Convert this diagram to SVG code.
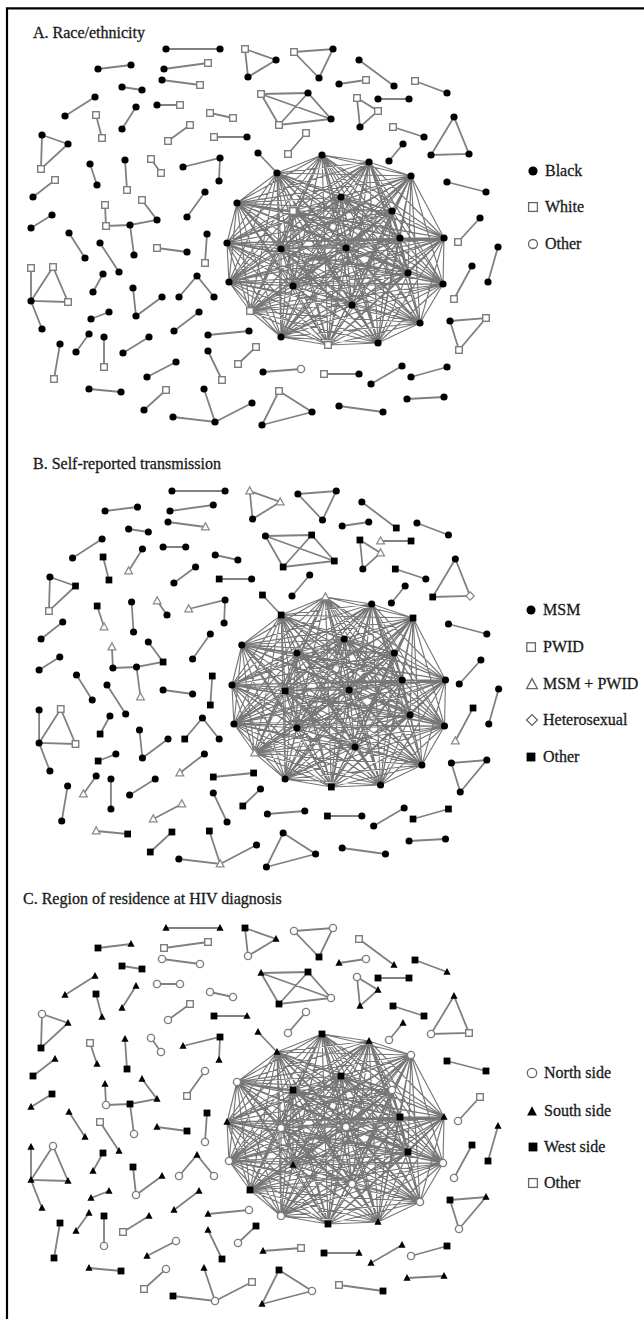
<svg xmlns="http://www.w3.org/2000/svg" width="644" height="1319" viewBox="0 0 644 1319">
<style>
.lbl{font-family:"Liberation Serif","Times New Roman",serif;font-size:16px;fill:#1a1a1a;stroke:#1a1a1a;stroke-width:0.3}
.e{fill:none;stroke:#808080;stroke-width:1.8}
.ce{fill:none;stroke:#777;stroke-width:1.15}
.lo{fill:#fff;stroke:#666;stroke-width:1.3}
</style>
<defs>
<circle id="k" r="3.6" fill="#000"/>
<rect id="w" x="-3.3" y="-3.3" width="6.6" height="6.6" fill="#fff" stroke="#7d7d7d" stroke-width="1.4"/>
<circle id="o" r="3.6" fill="#fff" stroke="#7d7d7d" stroke-width="1.4"/>
<path id="t" d="M0-4.1L3.9 2.8H-3.9Z" fill="#fff" stroke="#8a8a8a" stroke-width="1.3"/>
<path id="d" d="M0-4.2L4.2 0L0 4.2L-4.2 0Z" fill="#fff" stroke="#8a8a8a" stroke-width="1.3"/>
<rect id="s" x="-3.4" y="-3.4" width="6.8" height="6.8" fill="#000"/>
<path id="T" d="M0-3.9L3.6 2.8H-3.6Z" fill="#000"/>
<g id="net-edges">
<path class="ce" d="M322 155L277 173L369 162M411 176L277 173L237 203M293 211L277 173L341 197M392 211L277 173L400 238M227 243L277 173L281 249M346 248L277 173L444 238M408 273L277 173L443 284M229 282L277 173L293 286M352 305L277 173L250 311M420 323L277 173L281 337M378 343L277 173L328 345
M369 162L322 155L411 176M237 203L322 155L293 211M341 197L322 155L392 211M400 238L322 155L227 243M281 249L322 155L346 248M444 238L322 155L408 273M443 284L322 155L229 282M293 286L322 155L352 305M250 311L322 155L420 323M281 337L322 155L378 343M328 345L322 155
M411 176L369 162L237 203M293 211L369 162L341 197M392 211L369 162L400 238M227 243L369 162L281 249M346 248L369 162L444 238M408 273L369 162L443 284M229 282L369 162L293 286M352 305L369 162L250 311M420 323L369 162L281 337M378 343L369 162L328 345
M237 203L411 176L293 211M341 197L411 176L392 211M400 238L411 176L227 243M281 249L411 176L346 248M444 238L411 176L408 273M443 284L411 176L229 282M293 286L411 176L352 305M250 311L411 176L420 323M281 337L411 176L378 343M328 345L411 176
M293 211L237 203L341 197M392 211L237 203L400 238M227 243L237 203L281 249M346 248L237 203L444 238M408 273L237 203L443 284M229 282L237 203L293 286M352 305L237 203L250 311M420 323L237 203L281 337M378 343L237 203L328 345
M341 197L293 211L392 211M400 238L293 211L227 243M281 249L293 211L346 248M444 238L293 211L408 273M443 284L293 211L229 282M293 286L293 211L352 305M250 311L293 211L420 323M281 337L293 211L378 343M328 345L293 211
M392 211L341 197L400 238M227 243L341 197L281 249M346 248L341 197L444 238M408 273L341 197L443 284M229 282L341 197L293 286M352 305L341 197L250 311M420 323L341 197L281 337M378 343L341 197L328 345
M400 238L392 211L227 243M281 249L392 211L346 248M444 238L392 211L408 273M443 284L392 211L229 282M293 286L392 211L352 305M250 311L392 211L420 323M281 337L392 211L378 343M328 345L392 211
M227 243L400 238L281 249M346 248L400 238L444 238M408 273L400 238L443 284M229 282L400 238L293 286M352 305L400 238L250 311M420 323L400 238L281 337M378 343L400 238L328 345
M281 249L227 243L346 248M444 238L227 243L408 273M443 284L227 243L229 282M293 286L227 243L352 305M250 311L227 243L420 323M281 337L227 243L378 343M328 345L227 243
M346 248L281 249L444 238M408 273L281 249L443 284M229 282L281 249L293 286M352 305L281 249L250 311M420 323L281 249L281 337M378 343L281 249L328 345
M444 238L346 248L408 273M443 284L346 248L229 282M293 286L346 248L352 305M250 311L346 248L420 323M281 337L346 248L378 343M328 345L346 248
M408 273L444 238L443 284M229 282L444 238L293 286M352 305L444 238L250 311M420 323L444 238L281 337M378 343L444 238L328 345
M443 284L408 273L229 282M293 286L408 273L352 305M250 311L408 273L420 323M281 337L408 273L378 343M328 345L408 273
M229 282L443 284L293 286M352 305L443 284L250 311M420 323L443 284L281 337M378 343L443 284L328 345
M293 286L229 282L352 305M250 311L229 282L420 323M281 337L229 282L378 343M328 345L229 282
M352 305L293 286L250 311M420 323L293 286L281 337M378 343L293 286L328 345
M250 311L352 305L420 323M281 337L352 305L378 343M328 345L352 305
M420 323L250 311L281 337M378 343L250 311L328 345
M281 337L420 323L378 343M328 345L420 323
M378 343L281 337L328 345M328 345L378 343"/>
<path class="e" d="M166 49H220M245 49L276 60L248 77ZM294 52L333 49L319 78ZM98 69L131 65M164 69L208 63M162 80L200 85M122 87L142 90M65 116L95 97M122 129L136 107M96 115L102 138M157 105H180M210 113L233 118M168 141L190 125M214 137H247
M261 94L308 93L331 119L279 125ZM261 94L331 119M308 93L279 125
M288 154L306 133M42 135L68 144L41 169ZM90 164L97 185M125 160L127 190M151 159L161 173M183 167L220 158L219 181M33 197L55 180M205 192L187 217
M105 205L106 226L130 225L157 220L142 200M130 225L134 255
M52 215L31 228M69 233L85 258M100 243L119 272M157 248L187 252M207 234L205 263M103 274L93 292M133 288L136 316L162 297M179 297L197 276L214 297
M31 268L31 301L42 329M53 267L31 301L68 302Z
M91 319L109 312M174 331L199 312M89 334L76 352M104 337V367M60 344L54 379M123 353L149 337M208 335L249 331M208 351L222 380M238 364L256 347M147 377L176 362M263 372L301 369M89 389L121 392M144 410L166 390
M204 389L215 422L173 417M215 422L252 403M279 391L312 412L262 425Z
M393 127L424 137M454 117L431 155L469 154ZM403 144L389 161M359 60L394 86M339 84L366 80M415 81L447 93M357 98L378 111L360 127ZM378 99H409
M447 182L486 192M480 218L458 242M472 266L454 299M498 247L488 282M450 321L486 318L459 350Z
M324 374H359M371 384L402 366M411 377L447 367M407 399L444 397M339 406L383 412M258 153L277 173"/>
</g>
</defs>
<rect width="644" height="1319" fill="#fff"/>
<path id="frame" d="M7 1319V8.3H644" fill="none" stroke="#000" stroke-width="2.2"/>

<g id="panelA">
<text class="lbl" x="33" y="38">A. Race/ethnicity</text>
<g id="A-connectors"><use href="#net-edges"/></g>
<g id="A-nodes">
<use id="a1" href="#k" x="166" y="49"/><use id="a2" href="#k" x="220" y="49"/><use id="a3" href="#w" x="245" y="49"/><use id="a4" href="#k" x="276" y="60"/><use id="a5" href="#k" x="248" y="77"/>
<use id="a6" href="#w" x="294" y="52"/><use id="a7" href="#k" x="333" y="49"/><use id="a8" href="#k" x="319" y="78"/><use id="a9" href="#k" x="98" y="69"/><use id="a10" href="#k" x="131" y="65"/>
<use id="a11" href="#k" x="164" y="69"/><use id="a12" href="#w" x="208" y="63"/><use id="a13" href="#k" x="162" y="80"/><use id="a14" href="#w" x="200" y="85"/><use id="a15" href="#k" x="122" y="87"/>
<use id="a16" href="#k" x="142" y="90"/><use id="a17" href="#k" x="65" y="116"/><use id="a18" href="#k" x="95" y="97"/><use id="a19" href="#k" x="122" y="129"/><use id="a20" href="#k" x="136" y="107"/>
<use id="a21" href="#w" x="96" y="115"/><use id="a22" href="#w" x="102" y="138"/><use id="a23" href="#k" x="157" y="105"/><use id="a24" href="#w" x="180" y="105"/><use id="a25" href="#w" x="210" y="113"/>
<use id="a26" href="#w" x="233" y="118"/><use id="a27" href="#w" x="168" y="141"/><use id="a28" href="#w" x="190" y="125"/><use id="a29" href="#w" x="214" y="137"/><use id="a30" href="#k" x="247" y="137"/>
<use id="a31" href="#w" x="261" y="94"/><use id="a32" href="#k" x="308" y="93"/><use id="a33" href="#w" x="279" y="125"/><use id="a34" href="#k" x="331" y="119"/><use id="a35" href="#w" x="288" y="154"/>
<use id="a36" href="#w" x="306" y="133"/><use id="a37" href="#k" x="42" y="135"/><use id="a38" href="#k" x="68" y="144"/><use id="a39" href="#w" x="41" y="169"/><use id="a40" href="#k" x="90" y="164"/>
<use id="a41" href="#k" x="97" y="185"/><use id="a42" href="#k" x="125" y="160"/><use id="a43" href="#w" x="127" y="190"/><use id="a44" href="#w" x="151" y="159"/><use id="a45" href="#w" x="161" y="173"/>
<use id="a46" href="#k" x="183" y="167"/><use id="a47" href="#k" x="220" y="158"/><use id="a48" href="#k" x="219" y="181"/><use id="a49" href="#k" x="33" y="197"/><use id="a50" href="#w" x="55" y="180"/>
<use id="a51" href="#k" x="205" y="192"/><use id="a52" href="#k" x="187" y="217"/><use id="a53" href="#w" x="105" y="205"/><use id="a54" href="#w" x="106" y="226"/><use id="a55" href="#k" x="130" y="225"/>
<use id="a56" href="#k" x="157" y="220"/><use id="a57" href="#w" x="142" y="200"/><use id="a58" href="#k" x="134" y="255"/><use id="a59" href="#k" x="52" y="215"/><use id="a60" href="#k" x="31" y="228"/>
<use id="a61" href="#k" x="69" y="233"/><use id="a62" href="#k" x="85" y="258"/><use id="a63" href="#k" x="100" y="243"/><use id="a64" href="#k" x="119" y="272"/><use id="a65" href="#w" x="157" y="248"/>
<use id="a66" href="#k" x="187" y="252"/><use id="a67" href="#k" x="207" y="234"/><use id="a68" href="#w" x="205" y="263"/><use id="a69" href="#k" x="103" y="274"/><use id="a70" href="#k" x="93" y="292"/>
<use id="a71" href="#k" x="133" y="288"/><use id="a72" href="#k" x="136" y="316"/><use id="a73" href="#k" x="162" y="297"/><use id="a74" href="#k" x="197" y="276"/><use id="a75" href="#k" x="179" y="297"/>
<use id="a76" href="#k" x="214" y="297"/><use id="a77" href="#w" x="31" y="268"/><use id="a78" href="#w" x="53" y="267"/><use id="a79" href="#k" x="31" y="301"/><use id="a80" href="#w" x="68" y="302"/>
<use id="a81" href="#k" x="42" y="329"/><use id="a82" href="#k" x="91" y="319"/><use id="a83" href="#k" x="109" y="312"/><use id="a84" href="#k" x="174" y="331"/><use id="a85" href="#k" x="199" y="312"/>
<use id="a86" href="#k" x="89" y="334"/><use id="a87" href="#k" x="76" y="352"/><use id="a88" href="#k" x="104" y="337"/><use id="a89" href="#w" x="104" y="367"/><use id="a90" href="#k" x="60" y="344"/>
<use id="a91" href="#w" x="54" y="379"/><use id="a92" href="#k" x="123" y="353"/><use id="a93" href="#k" x="149" y="337"/><use id="a94" href="#k" x="208" y="335"/><use id="a95" href="#k" x="249" y="331"/>
<use id="a96" href="#k" x="208" y="351"/><use id="a97" href="#w" x="222" y="380"/><use id="a98" href="#w" x="238" y="364"/><use id="a99" href="#w" x="256" y="347"/><use id="a100" href="#k" x="147" y="377"/>
<use id="a101" href="#k" x="176" y="362"/><use id="a102" href="#k" x="263" y="372"/><use id="a103" href="#o" x="301" y="369"/><use id="a104" href="#k" x="89" y="389"/><use id="a105" href="#k" x="121" y="392"/>
<use id="a106" href="#k" x="144" y="410"/><use id="a107" href="#w" x="166" y="390"/><use id="a108" href="#k" x="215" y="422"/><use id="a109" href="#k" x="204" y="389"/><use id="a110" href="#k" x="173" y="417"/>
<use id="a111" href="#k" x="252" y="403"/><use id="a112" href="#w" x="279" y="391"/><use id="a113" href="#k" x="312" y="412"/><use id="a114" href="#k" x="262" y="425"/><use id="a115" href="#w" x="393" y="127"/>
<use id="a116" href="#k" x="424" y="137"/><use id="a117" href="#k" x="454" y="117"/><use id="a118" href="#k" x="431" y="155"/><use id="a119" href="#k" x="469" y="154"/><use id="a120" href="#k" x="403" y="144"/>
<use id="a121" href="#k" x="389" y="161"/><use id="a122" href="#k" x="359" y="60"/><use id="a123" href="#k" x="394" y="86"/><use id="a124" href="#k" x="339" y="84"/><use id="a125" href="#w" x="366" y="80"/>
<use id="a126" href="#w" x="415" y="81"/><use id="a127" href="#k" x="447" y="93"/><use id="a128" href="#w" x="357" y="98"/><use id="a129" href="#w" x="378" y="111"/><use id="a130" href="#k" x="360" y="127"/>
<use id="a131" href="#k" x="378" y="99"/><use id="a132" href="#k" x="409" y="99"/><use id="a133" href="#k" x="447" y="182"/><use id="a134" href="#k" x="486" y="192"/><use id="a135" href="#k" x="480" y="218"/>
<use id="a136" href="#w" x="458" y="242"/><use id="a137" href="#k" x="472" y="266"/><use id="a138" href="#w" x="454" y="299"/><use id="a139" href="#k" x="498" y="247"/><use id="a140" href="#k" x="488" y="282"/>
<use id="a141" href="#k" x="450" y="321"/><use id="a142" href="#w" x="486" y="318"/><use id="a143" href="#w" x="459" y="350"/><use id="a144" href="#w" x="324" y="374"/><use id="a145" href="#k" x="359" y="374"/>
<use id="a146" href="#k" x="371" y="384"/><use id="a147" href="#k" x="402" y="366"/><use id="a148" href="#k" x="411" y="377"/><use id="a149" href="#k" x="447" y="367"/><use id="a150" href="#k" x="407" y="399"/>
<use id="a151" href="#k" x="444" y="397"/><use id="a152" href="#k" x="339" y="406"/><use id="a153" href="#k" x="383" y="412"/><use id="a154" href="#k" x="258" y="153"/><use id="a155" href="#k" x="277" y="173"/>
<use id="a156" href="#k" x="322" y="155"/><use id="a157" href="#k" x="369" y="162"/><use id="a158" href="#k" x="411" y="176"/><use id="a159" href="#k" x="237" y="203"/><use id="a160" href="#w" x="293" y="211"/>
<use id="a161" href="#k" x="341" y="197"/><use id="a162" href="#k" x="392" y="211"/><use id="a163" href="#k" x="400" y="238"/><use id="a164" href="#k" x="227" y="243"/><use id="a165" href="#k" x="281" y="249"/>
<use id="a166" href="#k" x="346" y="248"/><use id="a167" href="#k" x="444" y="238"/><use id="a168" href="#k" x="408" y="273"/><use id="a169" href="#k" x="443" y="284"/><use id="a170" href="#k" x="229" y="282"/>
<use id="a171" href="#k" x="293" y="286"/><use id="a172" href="#k" x="352" y="305"/><use id="a173" href="#w" x="250" y="311"/><use id="a174" href="#k" x="420" y="323"/><use id="a175" href="#k" x="281" y="337"/>
<use id="a176" href="#k" x="378" y="343"/><use id="a177" href="#w" x="328" y="345"/>
</g>
<g id="A-legend">
<circle cx="533" cy="171" r="4.6" fill="#000"/><text class="lbl" x="545" y="176">Black</text>
<rect class="lo" x="528.6" y="202.6" width="8.8" height="8.8"/><text class="lbl" x="545" y="212">White</text>
<circle class="lo" cx="533" cy="244" r="4.5"/><text class="lbl" x="545" y="249">Other</text>
</g>
</g>

<g id="panelB">
<text class="lbl" x="33" y="469">B. Self-reported transmission</text>
<g transform="matrix(0.984 0 0 1 8.6 442)">
<g id="B-connectors"><use href="#net-edges"/></g>
<g id="B-nodes">
<use id="b1" href="#k" x="166" y="49"/><use id="b2" href="#k" x="220" y="49"/><use id="b3" href="#t" x="245" y="49"/><use id="b4" href="#t" x="276" y="60"/><use id="b5" href="#k" x="248" y="77"/>
<use id="b6" href="#k" x="294" y="52"/><use id="b7" href="#k" x="333" y="49"/><use id="b8" href="#k" x="319" y="78"/><use id="b9" href="#k" x="98" y="69"/><use id="b10" href="#k" x="131" y="65"/>
<use id="b11" href="#k" x="164" y="69"/><use id="b12" href="#k" x="208" y="63"/><use id="b13" href="#k" x="162" y="80"/><use id="b14" href="#t" x="200" y="85"/><use id="b15" href="#k" x="122" y="87"/>
<use id="b16" href="#k" x="142" y="90"/><use id="b17" href="#k" x="65" y="116"/><use id="b18" href="#k" x="95" y="97"/><use id="b19" href="#t" x="122" y="129"/><use id="b20" href="#k" x="136" y="107"/>
<use id="b21" href="#s" x="96" y="115"/><use id="b22" href="#s" x="102" y="138"/><use id="b23" href="#k" x="157" y="105"/><use id="b24" href="#k" x="180" y="105"/><use id="b25" href="#k" x="210" y="113"/>
<use id="b26" href="#k" x="233" y="118"/><use id="b27" href="#k" x="168" y="141"/><use id="b28" href="#k" x="190" y="125"/><use id="b29" href="#s" x="214" y="137"/><use id="b30" href="#k" x="247" y="137"/>
<use id="b31" href="#k" x="261" y="94"/><use id="b32" href="#s" x="308" y="93"/><use id="b33" href="#s" x="279" y="125"/><use id="b34" href="#s" x="331" y="119"/><use id="b35" href="#k" x="288" y="154"/>
<use id="b36" href="#k" x="306" y="133"/><use id="b37" href="#k" x="42" y="135"/><use id="b38" href="#s" x="68" y="144"/><use id="b39" href="#w" x="41" y="169"/><use id="b40" href="#s" x="90" y="164"/>
<use id="b41" href="#t" x="97" y="185"/><use id="b42" href="#k" x="125" y="160"/><use id="b43" href="#k" x="127" y="190"/><use id="b44" href="#t" x="151" y="159"/><use id="b45" href="#k" x="161" y="173"/>
<use id="b46" href="#t" x="183" y="167"/><use id="b47" href="#k" x="220" y="158"/><use id="b48" href="#k" x="219" y="181"/><use id="b49" href="#k" x="33" y="197"/><use id="b50" href="#k" x="55" y="180"/>
<use id="b51" href="#k" x="205" y="192"/><use id="b52" href="#k" x="187" y="217"/><use id="b53" href="#t" x="105" y="205"/><use id="b54" href="#k" x="106" y="226"/><use id="b55" href="#k" x="130" y="225"/>
<use id="b56" href="#s" x="157" y="220"/><use id="b57" href="#k" x="142" y="200"/><use id="b58" href="#t" x="134" y="255"/><use id="b59" href="#k" x="52" y="215"/><use id="b60" href="#k" x="31" y="228"/>
<use id="b61" href="#k" x="69" y="233"/><use id="b62" href="#k" x="85" y="258"/><use id="b63" href="#k" x="100" y="243"/><use id="b64" href="#k" x="119" y="272"/><use id="b65" href="#k" x="157" y="248"/>
<use id="b66" href="#k" x="187" y="252"/><use id="b67" href="#s" x="207" y="234"/><use id="b68" href="#s" x="205" y="263"/><use id="b69" href="#k" x="103" y="274"/><use id="b70" href="#s" x="93" y="292"/>
<use id="b71" href="#k" x="133" y="288"/><use id="b72" href="#k" x="136" y="316"/><use id="b73" href="#k" x="162" y="297"/><use id="b74" href="#k" x="197" y="276"/><use id="b75" href="#s" x="179" y="297"/>
<use id="b76" href="#k" x="214" y="297"/><use id="b77" href="#k" x="31" y="268"/><use id="b78" href="#w" x="53" y="267"/><use id="b79" href="#k" x="31" y="301"/><use id="b80" href="#w" x="68" y="302"/>
<use id="b81" href="#k" x="42" y="329"/><use id="b82" href="#s" x="91" y="319"/><use id="b83" href="#k" x="109" y="312"/><use id="b84" href="#t" x="174" y="331"/><use id="b85" href="#k" x="199" y="312"/>
<use id="b86" href="#k" x="89" y="334"/><use id="b87" href="#t" x="76" y="352"/><use id="b88" href="#k" x="104" y="337"/><use id="b89" href="#k" x="104" y="367"/><use id="b90" href="#k" x="60" y="344"/>
<use id="b91" href="#k" x="54" y="379"/><use id="b92" href="#k" x="123" y="353"/><use id="b93" href="#k" x="149" y="337"/><use id="b94" href="#s" x="208" y="335"/><use id="b95" href="#s" x="249" y="331"/>
<use id="b96" href="#k" x="208" y="351"/><use id="b97" href="#k" x="222" y="380"/><use id="b98" href="#s" x="238" y="364"/><use id="b99" href="#k" x="256" y="347"/><use id="b100" href="#t" x="147" y="377"/>
<use id="b101" href="#t" x="176" y="362"/><use id="b102" href="#k" x="263" y="372"/><use id="b103" href="#k" x="301" y="369"/><use id="b104" href="#t" x="89" y="389"/><use id="b105" href="#s" x="121" y="392"/>
<use id="b106" href="#s" x="144" y="410"/><use id="b107" href="#s" x="166" y="390"/><use id="b108" href="#t" x="215" y="422"/><use id="b109" href="#s" x="204" y="389"/><use id="b110" href="#k" x="173" y="417"/>
<use id="b111" href="#k" x="252" y="403"/><use id="b112" href="#k" x="279" y="391"/><use id="b113" href="#k" x="312" y="412"/><use id="b114" href="#k" x="262" y="425"/><use id="b115" href="#s" x="393" y="127"/>
<use id="b116" href="#k" x="424" y="137"/><use id="b117" href="#k" x="454" y="117"/><use id="b118" href="#s" x="431" y="155"/><use id="b119" href="#d" x="469" y="154"/><use id="b120" href="#k" x="403" y="144"/>
<use id="b121" href="#k" x="389" y="161"/><use id="b122" href="#k" x="359" y="60"/><use id="b123" href="#s" x="394" y="86"/><use id="b124" href="#k" x="339" y="84"/><use id="b125" href="#k" x="366" y="80"/>
<use id="b126" href="#k" x="415" y="81"/><use id="b127" href="#k" x="447" y="93"/><use id="b128" href="#s" x="357" y="98"/><use id="b129" href="#t" x="378" y="111"/><use id="b130" href="#k" x="360" y="127"/>
<use id="b131" href="#t" x="378" y="99"/><use id="b132" href="#s" x="409" y="99"/><use id="b133" href="#k" x="447" y="182"/><use id="b134" href="#k" x="486" y="192"/><use id="b135" href="#k" x="480" y="218"/>
<use id="b136" href="#k" x="458" y="242"/><use id="b137" href="#s" x="472" y="266"/><use id="b138" href="#t" x="454" y="299"/><use id="b139" href="#k" x="498" y="247"/><use id="b140" href="#k" x="488" y="282"/>
<use id="b141" href="#k" x="450" y="321"/><use id="b142" href="#k" x="486" y="318"/><use id="b143" href="#k" x="459" y="350"/><use id="b144" href="#s" x="324" y="374"/><use id="b145" href="#k" x="359" y="374"/>
<use id="b146" href="#k" x="371" y="384"/><use id="b147" href="#k" x="402" y="366"/><use id="b148" href="#s" x="411" y="377"/><use id="b149" href="#s" x="447" y="367"/><use id="b150" href="#k" x="407" y="399"/>
<use id="b151" href="#k" x="444" y="397"/><use id="b152" href="#k" x="339" y="406"/><use id="b153" href="#k" x="383" y="412"/><use id="b154" href="#s" x="258" y="153"/><use id="b155" href="#s" x="277" y="173"/>
<use id="b156" href="#t" x="322" y="155"/><use id="b157" href="#k" x="369" y="162"/><use id="b158" href="#s" x="411" y="176"/><use id="b159" href="#k" x="237" y="203"/><use id="b160" href="#k" x="293" y="211"/>
<use id="b161" href="#k" x="341" y="197"/><use id="b162" href="#k" x="392" y="211"/><use id="b163" href="#k" x="400" y="238"/><use id="b164" href="#k" x="227" y="243"/><use id="b165" href="#s" x="281" y="249"/>
<use id="b166" href="#k" x="346" y="248"/><use id="b167" href="#k" x="444" y="238"/><use id="b168" href="#k" x="408" y="273"/><use id="b169" href="#k" x="443" y="284"/><use id="b170" href="#k" x="229" y="282"/>
<use id="b171" href="#k" x="293" y="286"/><use id="b172" href="#k" x="352" y="305"/><use id="b173" href="#t" x="250" y="311"/><use id="b174" href="#k" x="420" y="323"/><use id="b175" href="#k" x="281" y="337"/>
<use id="b176" href="#k" x="378" y="343"/><use id="b177" href="#s" x="328" y="345"/>
</g>
</g>
<g id="B-legend">
<circle cx="531" cy="610" r="4.5" fill="#000"/><text class="lbl" x="543" y="615">MSM</text>
<rect class="lo" x="526.8" y="642.8" width="8.6" height="8.6"/><text class="lbl" x="543" y="652">PWID</text>
<path class="lo" d="M532 678.6L537.4 688.6H526.6Z"/><text class="lbl" x="543" y="689">MSM + PWID</text>
<path class="lo" d="M532 714.6L537.4 720L532 725.4L526.6 720Z"/><text class="lbl" x="543" y="725">Heterosexual</text>
<rect x="526.6" y="752.6" width="8.8" height="8.8" fill="#000"/><text class="lbl" x="543" y="762">Other</text>
</g>
</g>

<g id="panelC">
<text class="lbl" x="23" y="904">C. Region of residence at HIV diagnosis</text>
<g transform="translate(0 879)">
<g id="C-connectors"><use href="#net-edges"/></g>
<g id="C-nodes">
<use id="c1" href="#T" x="166" y="49"/><use id="c2" href="#T" x="220" y="49"/><use id="c3" href="#s" x="245" y="49"/><use id="c4" href="#T" x="276" y="60"/><use id="c5" href="#o" x="248" y="77"/>
<use id="c6" href="#o" x="294" y="52"/><use id="c7" href="#o" x="333" y="49"/><use id="c8" href="#s" x="319" y="78"/><use id="c9" href="#s" x="98" y="69"/><use id="c10" href="#T" x="131" y="65"/>
<use id="c11" href="#w" x="164" y="69"/><use id="c12" href="#w" x="208" y="63"/><use id="c13" href="#o" x="162" y="80"/><use id="c14" href="#o" x="200" y="85"/><use id="c15" href="#s" x="122" y="87"/>
<use id="c16" href="#s" x="142" y="90"/><use id="c17" href="#T" x="65" y="116"/><use id="c18" href="#T" x="95" y="97"/><use id="c19" href="#T" x="122" y="129"/><use id="c20" href="#T" x="136" y="107"/>
<use id="c21" href="#s" x="96" y="115"/><use id="c22" href="#T" x="102" y="138"/><use id="c23" href="#o" x="157" y="105"/><use id="c24" href="#o" x="180" y="105"/><use id="c25" href="#o" x="210" y="113"/>
<use id="c26" href="#o" x="233" y="118"/><use id="c27" href="#o" x="168" y="141"/><use id="c28" href="#w" x="190" y="125"/><use id="c29" href="#s" x="214" y="137"/><use id="c30" href="#T" x="247" y="137"/>
<use id="c31" href="#T" x="261" y="94"/><use id="c32" href="#s" x="308" y="93"/><use id="c33" href="#s" x="279" y="125"/><use id="c34" href="#o" x="331" y="119"/><use id="c35" href="#o" x="288" y="154"/>
<use id="c36" href="#o" x="306" y="133"/><use id="c37" href="#o" x="42" y="135"/><use id="c38" href="#T" x="68" y="144"/><use id="c39" href="#s" x="41" y="169"/><use id="c40" href="#w" x="90" y="164"/>
<use id="c41" href="#T" x="97" y="185"/><use id="c42" href="#T" x="125" y="160"/><use id="c43" href="#s" x="127" y="190"/><use id="c44" href="#o" x="151" y="159"/><use id="c45" href="#o" x="161" y="173"/>
<use id="c46" href="#T" x="183" y="167"/><use id="c47" href="#s" x="220" y="158"/><use id="c48" href="#T" x="219" y="181"/><use id="c49" href="#s" x="33" y="197"/><use id="c50" href="#T" x="55" y="180"/>
<use id="c51" href="#o" x="205" y="192"/><use id="c52" href="#w" x="187" y="217"/><use id="c53" href="#T" x="105" y="205"/><use id="c54" href="#o" x="106" y="226"/><use id="c55" href="#s" x="130" y="225"/>
<use id="c56" href="#T" x="157" y="220"/><use id="c57" href="#T" x="142" y="200"/><use id="c58" href="#o" x="134" y="255"/><use id="c59" href="#s" x="52" y="215"/><use id="c60" href="#T" x="31" y="228"/>
<use id="c61" href="#T" x="69" y="233"/><use id="c62" href="#T" x="85" y="258"/><use id="c63" href="#w" x="100" y="243"/><use id="c64" href="#T" x="119" y="272"/><use id="c65" href="#T" x="157" y="248"/>
<use id="c66" href="#s" x="187" y="252"/><use id="c67" href="#s" x="207" y="234"/><use id="c68" href="#o" x="205" y="263"/><use id="c69" href="#s" x="103" y="274"/><use id="c70" href="#T" x="93" y="292"/>
<use id="c71" href="#s" x="133" y="288"/><use id="c72" href="#o" x="136" y="316"/><use id="c73" href="#T" x="162" y="297"/><use id="c74" href="#T" x="197" y="276"/><use id="c75" href="#o" x="179" y="297"/>
<use id="c76" href="#o" x="214" y="297"/><use id="c77" href="#T" x="31" y="268"/><use id="c78" href="#o" x="53" y="267"/><use id="c79" href="#T" x="31" y="301"/><use id="c80" href="#T" x="68" y="302"/>
<use id="c81" href="#T" x="42" y="329"/><use id="c82" href="#T" x="91" y="319"/><use id="c83" href="#T" x="109" y="312"/><use id="c84" href="#T" x="174" y="331"/><use id="c85" href="#T" x="199" y="312"/>
<use id="c86" href="#T" x="89" y="334"/><use id="c87" href="#T" x="76" y="352"/><use id="c88" href="#s" x="104" y="337"/><use id="c89" href="#o" x="104" y="367"/><use id="c90" href="#s" x="60" y="344"/>
<use id="c91" href="#s" x="54" y="379"/><use id="c92" href="#w" x="123" y="353"/><use id="c93" href="#T" x="149" y="337"/><use id="c94" href="#T" x="208" y="335"/><use id="c95" href="#o" x="249" y="331"/>
<use id="c96" href="#T" x="208" y="351"/><use id="c97" href="#s" x="222" y="380"/><use id="c98" href="#o" x="238" y="364"/><use id="c99" href="#s" x="256" y="347"/><use id="c100" href="#T" x="147" y="377"/>
<use id="c101" href="#o" x="176" y="362"/><use id="c102" href="#T" x="263" y="372"/><use id="c103" href="#w" x="301" y="369"/><use id="c104" href="#T" x="89" y="389"/><use id="c105" href="#s" x="121" y="392"/>
<use id="c106" href="#w" x="144" y="410"/><use id="c107" href="#o" x="166" y="390"/><use id="c108" href="#o" x="215" y="422"/><use id="c109" href="#T" x="204" y="389"/><use id="c110" href="#s" x="173" y="417"/>
<use id="c111" href="#w" x="252" y="403"/><use id="c112" href="#s" x="279" y="391"/><use id="c113" href="#o" x="312" y="412"/><use id="c114" href="#T" x="262" y="425"/><use id="c115" href="#s" x="393" y="127"/>
<use id="c116" href="#s" x="424" y="137"/><use id="c117" href="#T" x="454" y="117"/><use id="c118" href="#o" x="431" y="155"/><use id="c119" href="#w" x="469" y="154"/><use id="c120" href="#T" x="403" y="144"/>
<use id="c121" href="#o" x="389" y="161"/><use id="c122" href="#w" x="359" y="60"/><use id="c123" href="#T" x="394" y="86"/><use id="c124" href="#T" x="339" y="84"/><use id="c125" href="#o" x="366" y="80"/>
<use id="c126" href="#s" x="415" y="81"/><use id="c127" href="#T" x="447" y="93"/><use id="c128" href="#o" x="357" y="98"/><use id="c129" href="#T" x="378" y="111"/><use id="c130" href="#T" x="360" y="127"/>
<use id="c131" href="#s" x="378" y="99"/><use id="c132" href="#s" x="409" y="99"/><use id="c133" href="#s" x="447" y="182"/><use id="c134" href="#s" x="486" y="192"/><use id="c135" href="#w" x="480" y="218"/>
<use id="c136" href="#o" x="458" y="242"/><use id="c137" href="#s" x="472" y="266"/><use id="c138" href="#o" x="454" y="299"/><use id="c139" href="#T" x="498" y="247"/><use id="c140" href="#s" x="488" y="282"/>
<use id="c141" href="#s" x="450" y="321"/><use id="c142" href="#T" x="486" y="318"/><use id="c143" href="#o" x="459" y="350"/><use id="c144" href="#s" x="324" y="374"/><use id="c145" href="#T" x="359" y="374"/>
<use id="c146" href="#T" x="371" y="384"/><use id="c147" href="#T" x="402" y="366"/><use id="c148" href="#o" x="411" y="377"/><use id="c149" href="#s" x="447" y="367"/><use id="c150" href="#T" x="407" y="399"/>
<use id="c151" href="#T" x="444" y="397"/><use id="c152" href="#w" x="339" y="406"/><use id="c153" href="#s" x="383" y="412"/><use id="c154" href="#T" x="258" y="153"/><use id="c155" href="#T" x="277" y="173"/>
<use id="c156" href="#s" x="322" y="155"/><use id="c157" href="#T" x="369" y="162"/><use id="c158" href="#o" x="411" y="176"/><use id="c159" href="#o" x="237" y="203"/><use id="c160" href="#s" x="293" y="211"/>
<use id="c161" href="#s" x="341" y="197"/><use id="c162" href="#o" x="392" y="211"/><use id="c163" href="#s" x="400" y="238"/><use id="c164" href="#T" x="227" y="243"/><use id="c165" href="#o" x="281" y="249"/>
<use id="c166" href="#o" x="346" y="248"/><use id="c167" href="#T" x="444" y="238"/><use id="c168" href="#s" x="408" y="273"/><use id="c169" href="#o" x="443" y="284"/><use id="c170" href="#o" x="229" y="282"/>
<use id="c171" href="#T" x="293" y="286"/><use id="c172" href="#o" x="352" y="305"/><use id="c173" href="#s" x="250" y="311"/><use id="c174" href="#o" x="420" y="323"/><use id="c175" href="#o" x="281" y="337"/>
<use id="c176" href="#T" x="378" y="343"/><use id="c177" href="#s" x="328" y="345"/>
</g>
</g>
<g id="C-legend">
<circle class="lo" cx="532" cy="1073" r="4.7"/><text class="lbl" x="544" y="1078">North side</text>
<path d="M532 1106.2L536.9 1115.4H527.1Z" fill="#000"/><text class="lbl" x="544" y="1116">South side</text>
<rect x="528.6" y="1142.6" width="8.8" height="8.8" fill="#000"/><text class="lbl" x="544" y="1152">West side</text>
<rect class="lo" x="528.6" y="1178.6" width="8.8" height="8.8"/><text class="lbl" x="544" y="1188">Other</text>
</g>
</g>
</svg>
